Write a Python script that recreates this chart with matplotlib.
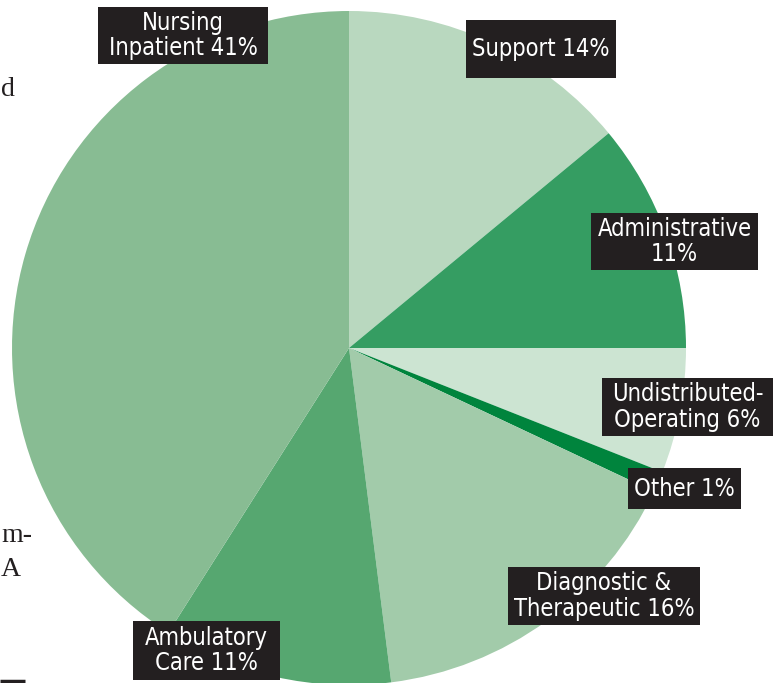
import matplotlib
matplotlib.use("Agg")
import matplotlib.pyplot as plt
from matplotlib.patches import Rectangle

categories = ["Support", "Administrative", "Undistributed-Operating", "Other",
              "Diagnostic & Therapeutic", "Ambulatory Care", "Nursing Inpatient"]
values = [14, 11, 6, 1, 16, 11, 41]
label_texts = ["Support 14%", "Administrative\n11%", "Undistributed-\nOperating 6%", "Other 1%",
               "Diagnostic &\nTherapeutic 16%", "Ambulatory\nCare 11%", "Nursing\nInpatient 41%"]
colors = ["#b9d8bf", "#359d62", "#cce4d2", "#00843d", "#a2cbaa", "#56a770", "#88bc93"]

W, H = 778, 683
fig = plt.figure(figsize=(W / 100, H / 100), dpi=100)
ax = fig.add_axes([0, 0, 1, 1])

cx, cy, r = 349, H - 348, 337
ax.pie(values, colors=colors, startangle=90, counterclock=False,
       center=(cx, cy), radius=r, frame=True,
       wedgeprops=dict(linewidth=0))
ax.set_xlim(0, W)
ax.set_ylim(0, H)
ax.set_aspect("equal")
ax.axis("off")

# label boxes: (left, top, width, height) in pixels from top-left
boxes = [(466, 20, 150, 58), (591, 213, 167, 57), (602, 378, 171, 58), (628, 468, 113, 41),
         (508, 567, 192, 58), (133, 621, 147, 59), (98, 7, 170, 57)]
for txt, (x0, y0, w, h) in zip(label_texts, boxes):
    ax.add_patch(Rectangle((x0, H - y0 - h), w, h, facecolor="#231f20", edgecolor="none", zorder=3))
    ax.text(x0 + w / 2, H - y0 - h / 2, txt, ha="center", va="center", color="white",
            fontsize=17, family="DejaVu Sans", fontstretch="condensed",
            linespacing=1.1, multialignment="center", zorder=4)

# fragments of surrounding page text
serif = dict(ha="left", va="center", fontsize=20, family="Liberation Serif", color="#231f20")
ax.text(1, H - 90, "d", **serif)
ax.text(1, H - 536, "m-", **serif)
ax.text(1, H - 570, "A", **serif)
ax.plot([0, 25], [H - 681, H - 681], color="#231f20", linewidth=2.5, solid_capstyle="butt")

fig.savefig("out.png", dpi=100)
